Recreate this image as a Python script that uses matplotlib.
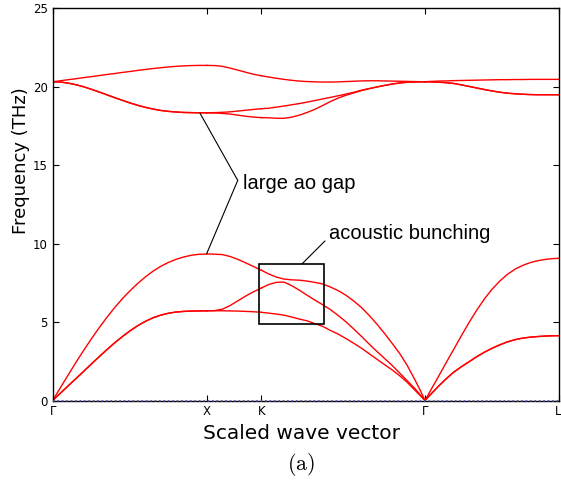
import matplotlib
matplotlib.use("Agg")
import matplotlib.pyplot as plt
from matplotlib.patches import Rectangle

plt.rcParams["mathtext.fontset"] = "cm"

# High-symmetry points along the path (distance in units of 2*pi/a)
sym_pos = [0.0, 1.0, 1.3536, 2.4142, 3.2802]
sym_labels = ["Γ", "X", "K", "Γ", "L"]

# ---- Gamma -> X ----
q_gx = [0.00, 0.05, 0.10, 0.15, 0.20, 0.25, 0.30, 0.35, 0.40, 0.45, 0.50,
        0.55, 0.60, 0.65, 0.70, 0.75, 0.80, 0.85, 0.90, 0.95, 1.00]
la_gx = [0.00, 0.82, 1.62, 2.42, 3.18, 3.92, 4.62, 5.28, 5.90, 6.47, 6.98,
         7.45, 7.87, 8.24, 8.55, 8.80, 9.00, 9.15, 9.26, 9.32, 9.34]
ta_gx = [0.00, 0.47, 0.93, 1.39, 1.85, 2.32, 2.78, 3.23, 3.66, 4.06, 4.43,
         4.76, 5.04, 5.27, 5.44, 5.56, 5.64, 5.68, 5.70, 5.71, 5.72]
lo_gx = [20.32, 20.38, 20.45, 20.51, 20.58, 20.64, 20.71, 20.78, 20.84, 20.91, 20.97,
         21.04, 21.10, 21.16, 21.21, 21.26, 21.30, 21.33, 21.35, 21.36, 21.36]
to_gx = [20.32, 20.30, 20.23, 20.13, 20.00, 19.84, 19.67, 19.49, 19.31, 19.14, 18.97,
         18.82, 18.69, 18.58, 18.49, 18.43, 18.39, 18.36, 18.35, 18.34, 18.34]

# ---- X -> K ----
q_xk = [1.0, 1.05, 1.1, 1.15, 1.2, 1.25, 1.3, 1.3536]
la_xk = [9.34, 9.33, 9.30, 9.18, 9.00, 8.78, 8.55, 8.30]
ta1_xk = [5.72, 5.72, 5.72, 5.71, 5.70, 5.68, 5.66, 5.62]
ta2_xk = [5.72, 5.73, 5.82, 6.05, 6.35, 6.65, 6.92, 7.17]
lo_xk = [21.36, 21.35, 21.30, 21.19, 21.06, 20.93, 20.80, 20.70]
to1_xk = [18.34, 18.35, 18.37, 18.40, 18.45, 18.50, 18.55, 18.60]
to2_xk = [18.34, 18.33, 18.30, 18.26, 18.19, 18.12, 18.07, 18.03]

# ---- K -> Gamma ----
q_kg = [1.3536, 1.40, 1.45, 1.50, 1.55, 1.60, 1.65, 1.70, 1.75, 1.80, 1.85,
        1.90, 1.95, 2.00, 2.05, 2.10, 2.15, 2.20, 2.25, 2.30, 2.35, 2.385, 2.4142]
la_kg = [8.30, 8.07, 7.87, 7.74, 7.69, 7.67, 7.61, 7.53, 7.43, 7.24, 7.01,
         6.72, 6.36, 5.95, 5.45, 4.90, 4.30, 3.66, 3.00, 2.22, 1.30, 0.62, 0.0]
ta2_kg = [7.17, 7.39, 7.53, 7.55, 7.32, 7.03, 6.71, 6.40, 6.11, 5.80, 5.43,
          5.03, 4.58, 4.11, 3.62, 3.15, 2.70, 2.25, 1.75, 1.25, 0.75, 0.34, 0.0]
ta1_kg = [5.62, 5.57, 5.51, 5.44, 5.32, 5.19, 5.08, 4.90, 4.73, 4.47, 4.24,
          3.96, 3.66, 3.35, 3.00, 2.65, 2.30, 1.96, 1.58, 1.15, 0.65, 0.30, 0.0]
lo_kg = [20.70, 20.62, 20.54, 20.47, 20.41, 20.36, 20.33, 20.31, 20.30, 20.30, 20.31,
         20.33, 20.35, 20.37, 20.38, 20.38, 20.37, 20.36, 20.35, 20.34, 20.33, 20.32, 20.32]
to1_kg = [18.60, 18.63, 18.70, 18.77, 18.85, 18.93, 19.02, 19.12, 19.22, 19.32, 19.42,
          19.53, 19.64, 19.77, 19.88, 19.98, 20.08, 20.17, 20.24, 20.29, 20.31, 20.32, 20.32]
to2_kg = [18.03, 18.02, 17.99, 17.99, 18.06, 18.19, 18.36, 18.56, 18.80, 19.05, 19.27,
          19.45, 19.60, 19.75, 19.87, 19.98, 20.08, 20.17, 20.24, 20.29, 20.31, 20.32, 20.32]

# ---- Gamma -> L ----
q_gl = [2.4142, 2.45, 2.50, 2.55, 2.60, 2.65, 2.70, 2.75, 2.80, 2.85,
        2.90, 2.95, 3.00, 3.05, 3.10, 3.15, 3.20, 3.25, 3.2802]
la_gl = [0.00, 0.63, 1.50, 2.38, 3.25, 4.12, 4.97, 5.76, 6.48, 7.10,
         7.62, 8.05, 8.38, 8.62, 8.80, 8.92, 9.00, 9.05, 9.06]
ta_gl = [0.00, 0.38, 0.89, 1.37, 1.80, 2.15, 2.47, 2.79, 3.08, 3.33,
         3.55, 3.74, 3.88, 3.98, 4.04, 4.08, 4.11, 4.13, 4.13]
lo_gl = [20.32, 20.34, 20.36, 20.37, 20.39, 20.40, 20.41, 20.42, 20.43, 20.44,
         20.45, 20.45, 20.46, 20.46, 20.47, 20.47, 20.47, 20.47, 20.47]
to_gl = [20.32, 20.31, 20.29, 20.26, 20.21, 20.12, 20.02, 19.92, 19.82, 19.73,
         19.65, 19.59, 19.55, 19.52, 19.50, 19.49, 19.49, 19.49, 19.49]

# Each segment with its branches; degenerate branches are listed twice
segments = [
    (q_gx, [la_gx, ta_gx, ta_gx, lo_gx, to_gx, to_gx]),
    (q_xk, [la_xk, ta1_xk, ta2_xk, lo_xk, to1_xk, to2_xk]),
    (q_kg, [la_kg, ta1_kg, ta2_kg, lo_kg, to1_kg, to2_kg]),
    (q_gl, [la_gl, ta_gl, ta_gl, lo_gl, to_gl, to_gl]),
]

fig = plt.figure(figsize=(5.61, 4.88), dpi=100)
ax = fig.add_axes([52.7 / 561, 1 - 400.5 / 488, (558.5 - 52.7) / 561, (400.5 - 8.3) / 488])

for q, branches in segments:
    for f in branches:
        ax.plot(q, f, color="red", lw=1.0, solid_joinstyle="round")

ax.axhline(0, color="#4a4a9a", ls=":", lw=1.2, zorder=4, clip_on=False)

ax.set_xlim(sym_pos[0], sym_pos[-1])
ax.set_ylim(0, 25)
ax.set_xticks(sym_pos)
ax.set_xticklabels(sym_labels)
ax.set_yticks([0, 5, 10, 15, 20, 25])
ax.tick_params(direction="in", top=True, right=True, length=4, width=0.8,
               labelsize=8.5, pad=3.5)
for s in ax.spines.values():
    s.set_linewidth(1.0)

ax.set_xlabel("Scaled wave vector", fontsize=14.5, va="baseline")
ax.xaxis.set_label_coords(0.492, -0.0989)
ax.set_ylabel("Frequency (THz)", fontsize=13, va="center", ha="center")
ax.yaxis.set_label_coords(-0.063, 0.611)

# Annotation: acoustic-optical gap
ann_font = "Liberation Sans"
gap_apex = (1.20, 14.03)
for target in [(0.955, 18.32), (0.999, 9.37)]:
    ax.annotate("", xy=target, xytext=gap_apex,
                arrowprops=dict(arrowstyle="-", lw=0.8, color="black",
                                shrinkA=0, shrinkB=0))
ax.text(1.236, 13.48, "large ao gap", fontsize=14.5, family=ann_font,
        ha="left", va="baseline")

# Annotation: acoustic bunching near K
box = Rectangle((1.340, 4.88), 1.762 - 1.340, 8.70 - 4.88, fill=False,
                edgecolor="black", lw=1.2, zorder=5)
ax.add_patch(box)
ax.annotate("", xy=(1.616, 8.70), xytext=(1.766, 10.17),
            arrowprops=dict(arrowstyle="-", lw=0.8, color="black",
                            shrinkA=0, shrinkB=0))
ax.text(1.792, 10.29, "acoustic bunching", fontsize=14.5, family=ann_font,
        ha="left", va="baseline")

fig.text(301.5 / 561, 1 - 465 / 488, r"$\mathrm{(a)}$", fontsize=16,
         ha="center", va="center")

fig.savefig("out.png", dpi=100)
